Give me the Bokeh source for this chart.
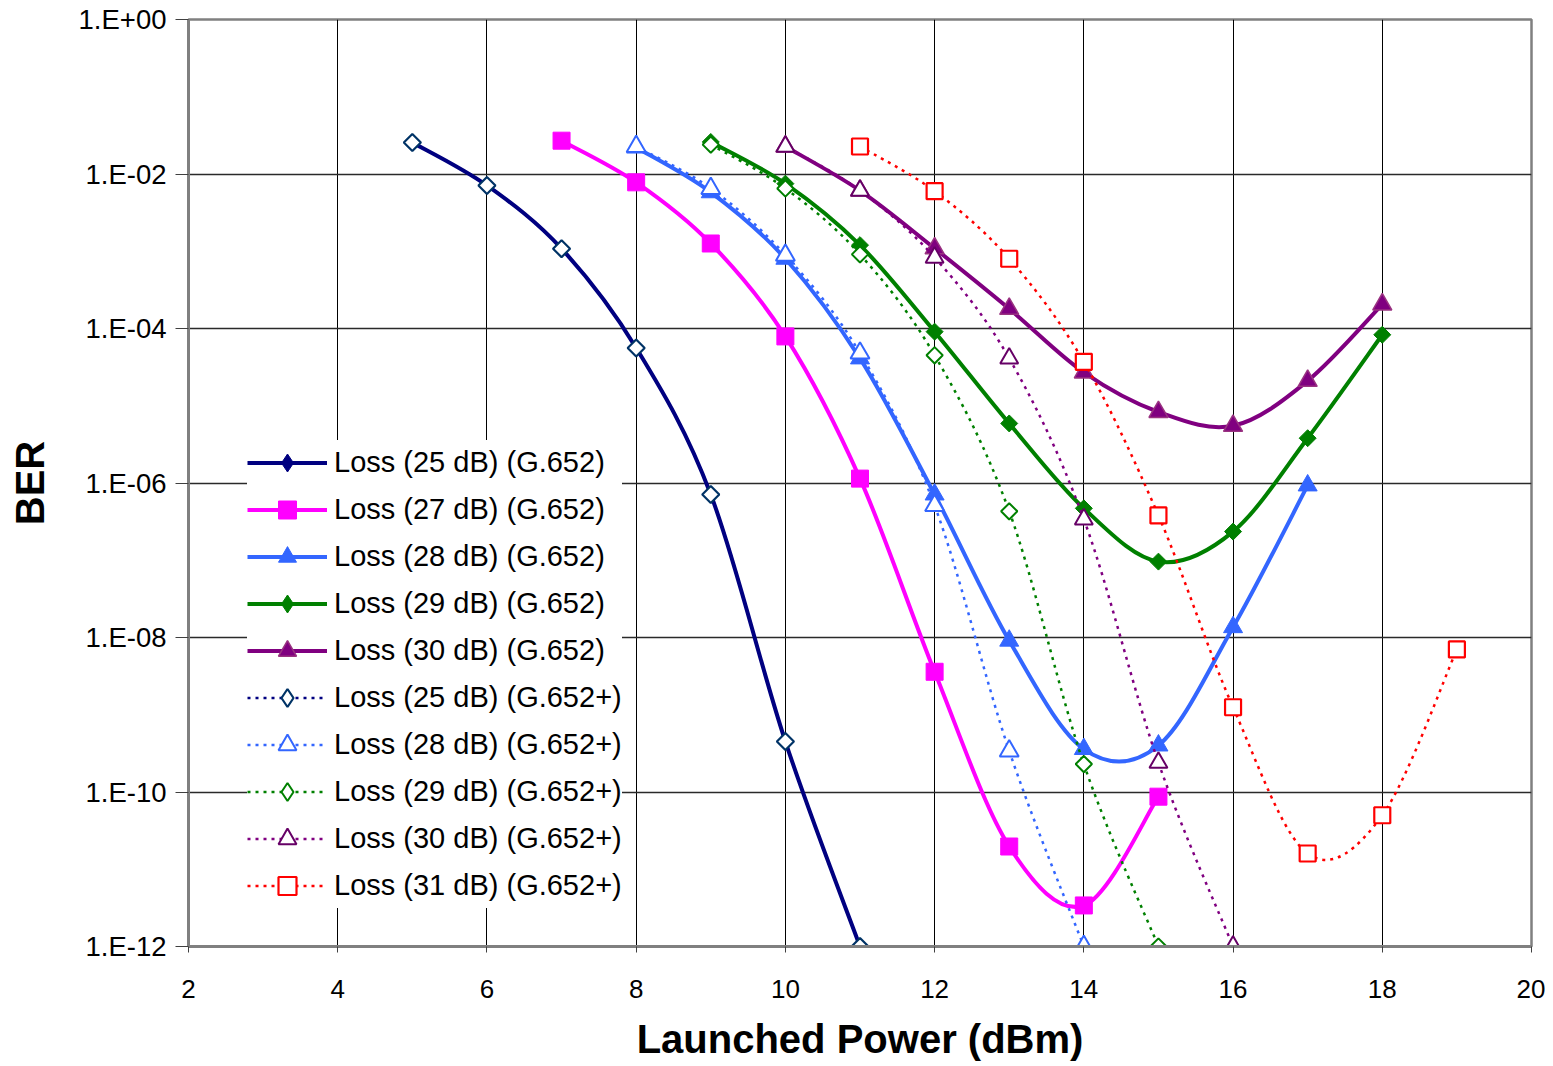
import numpy as np
from bokeh.plotting import figure
from bokeh.models import (Range1d, FixedTicker, CustomJSTickFormatter, Legend,
                          LegendItem, ColumnDataSource)
from bokeh.embed import file_html
from bokeh.resources import INLINE

# ---------------- data ----------------
x_25 = [5, 6, 7, 8, 9, 10, 11]
ber_25 = [2.56e-2, 7.1e-3, 1.08e-3, 5.6e-5, 7.1e-7, 4.5e-10, 1.0e-12]

x_27 = [7, 8, 9, 10, 11, 12, 13, 14, 15]
ber_27 = [2.7e-2, 7.8e-3, 1.26e-3, 7.9e-5, 1.14e-6, 3.6e-9, 1.97e-11, 3.4e-12, 8.7e-11]

x_28 = [8, 9, 10, 11, 12, 13, 14, 15, 16, 17]
ber_28 = [2.2e-2, 5.8e-3, 8.0e-4, 4.1e-5, 7.1e-7, 9.1e-9, 3.6e-10, 4.0e-10, 1.36e-8, 9.3e-7]

x_29 = [9, 10, 11, 12, 13, 14, 15, 16, 17, 18]
ber_29 = [2.6e-2, 7.5e-3, 1.2e-3, 9.1e-5, 5.9e-6, 4.7e-7, 9.6e-8, 2.35e-7, 3.8e-6, 8.3e-5]

x_30 = [10, 11, 12, 13, 14, 15, 16, 17, 18]
ber_30 = [2.27e-2, 6.1e-3, 1.09e-3, 1.8e-4, 2.7e-5, 8.3e-6, 5.5e-6, 2.1e-5, 2.05e-4]

x_25p = [5, 6, 7, 8, 9, 10, 11]
ber_25p = [2.56e-2, 7.1e-3, 1.08e-3, 5.6e-5, 7.1e-7, 4.5e-10, 1.0e-12]

x_28p = [8, 9, 10, 11, 12, 13, 14]
ber_28p = [2.27e-2, 6.5e-3, 8.9e-4, 4.8e-5, 5.1e-7, 3.4e-10, 1.0e-12]

x_29p = [9, 10, 11, 12, 13, 14, 15]
ber_29p = [2.4e-2, 6.5e-3, 9.1e-4, 4.5e-5, 4.3e-7, 2.3e-10, 1.0e-12]

x_30p = [10, 11, 12, 13, 14, 15, 16]
ber_30p = [2.27e-2, 6.1e-3, 8.3e-4, 4.1e-5, 3.4e-7, 2.4e-10, 1.0e-12]

x_31p = [11, 12, 13, 14, 15, 16, 17, 18, 19]
ber_31p = [2.27e-2, 6.0e-3, 8.0e-4, 3.7e-5, 3.8e-7, 1.25e-9, 1.6e-11, 5.0e-11, 7.0e-9]

labels = ["Loss (25 dB) (G.652)", "Loss (27 dB) (G.652)", "Loss (28 dB) (G.652)",
          "Loss (29 dB) (G.652)", "Loss (30 dB) (G.652)",
          "Loss (25 dB) (G.652+)", "Loss (28 dB) (G.652+)", "Loss (29 dB) (G.652+)",
          "Loss (30 dB) (G.652+)", "Loss (31 dB) (G.652+)"]

x_ticks = [2, 4, 6, 8, 10, 12, 14, 16, 18, 20]
y_ticks = [1e-12, 1e-10, 1e-8, 1e-6, 1e-4, 1e-2, 1e0]
y_tick_labels = ["1.E-12", "1.E-10", "1.E-08", "1.E-06", "1.E-04", "1.E-02", "1.E+00"]

# ---------------- styles ----------------
DIAMOND = "rdiamond"   # square turned by 45 degrees
styles = [
    dict(color="#000080", dash="solid", lw=4, marker=DIAMOND, size=12,
         fill="#000080", mline="#000080", mlw=1),
    dict(color="#FF00FF", dash="solid", lw=4, marker="square", size=17,
         fill="#FF00FF", mline="#FF00FF", mlw=1),
    dict(color="#3366FF", dash="solid", lw=4, marker="triangle", size=19,
         fill="#3366FF", mline="#3366FF", mlw=1),
    dict(color="#008000", dash="solid", lw=4, marker=DIAMOND, size=12,
         fill="#008000", mline="#008000", mlw=1),
    dict(color="#800080", dash="solid", lw=4, marker="triangle", size=19,
         fill="#800080", mline="#993380", mlw=1.5),
    dict(color="#000080", dash="3 5", lw=2.5, marker=DIAMOND, size=12,
         fill="white", mline="#003366", mlw=2.2),
    dict(color="#3366FF", dash="3 5", lw=2.5, marker="triangle", size=19,
         fill="white", mline="#3366FF", mlw=2),
    dict(color="#008000", dash="3 5", lw=2.5, marker=DIAMOND, size=11.5,
         fill="white", mline="#008000", mlw=2),
    dict(color="#800080", dash="3 5", lw=2.5, marker="triangle", size=18,
         fill="white", mline="#660066", mlw=2),
    dict(color="#FF0000", dash="3 5", lw=2.5, marker="square", size=16,
         fill="white", mline="#FF0000", mlw=2.2),
]

series = [(x_25, ber_25), (x_27, ber_27), (x_28, ber_28), (x_29, ber_29), (x_30, ber_30),
          (x_25p, ber_25p), (x_28p, ber_28p), (x_29p, ber_29p), (x_30p, ber_30p),
          (x_31p, ber_31p)]


def smooth_segments(xs, ys):
    """Bezier segments (Catmull-Rom style, like a spreadsheet 'smoothed line')
    computed in (x, log10 y) space from the data points."""
    lx = np.asarray(xs, dtype=float)
    ly = np.log10(np.asarray(ys, dtype=float))
    n = len(lx)
    out = {k: [] for k in ("x0", "y0", "x1", "y1", "cx0", "cy0", "cx1", "cy1")}
    for i in range(n - 1):
        ip = i - 1 if i > 0 else i
        inn = i + 2 if i + 2 < n else i + 1
        c1x = lx[i] + (lx[i + 1] - lx[ip]) / 6.0
        c1y = ly[i] + (ly[i + 1] - ly[ip]) / 6.0
        c2x = lx[i + 1] - (lx[inn] - lx[i]) / 6.0
        c2y = ly[i + 1] - (ly[inn] - ly[i]) / 6.0
        out["x0"].append(lx[i]); out["y0"].append(10 ** ly[i])
        out["x1"].append(lx[i + 1]); out["y1"].append(10 ** ly[i + 1])
        out["cx0"].append(c1x); out["cy0"].append(10 ** c1y)
        out["cx1"].append(c2x); out["cy1"].append(10 ** c2y)
    return out


FONT = "Liberation Sans"

p = figure(width=1545, height=1064, y_axis_type="log",
           x_range=Range1d(2, 20), y_range=Range1d(1e-12, 1.0),
           output_backend="svg", toolbar_location=None,
           min_border_left=188, min_border_right=14, min_border_top=19,
           min_border_bottom=118)
p.background_fill_color = "white"
p.border_fill_color = "white"
p.outline_line_color = "#808080"
p.outline_line_width = 2.5

# axes
p.xaxis.ticker = FixedTicker(ticks=x_ticks)
p.yaxis.ticker = FixedTicker(ticks=y_ticks)
p.yaxis.formatter = CustomJSTickFormatter(
    args=dict(tick_vals=y_ticks, tick_texts=y_tick_labels),
    code="""
    let best = 0, d = Infinity;
    for (let i = 0; i < tick_vals.length; i++) {
        const e = Math.abs(Math.log10(tick) - Math.log10(tick_vals[i]));
        if (e < d) { d = e; best = i; }
    }
    return tick_texts[best];
    """)
for ax in (p.xaxis[0], p.yaxis[0]):
    ax.axis_line_color = "#808080"
    ax.axis_line_width = 3
    ax.major_tick_line_color = "#404040"
    ax.major_tick_line_width = 1
    ax.major_tick_in = 0
    ax.minor_tick_line_color = None
    ax.minor_tick_in = 0
    ax.minor_tick_out = 0
    ax.major_label_text_font = FONT
    ax.major_label_text_font_size = "26px"
    ax.major_label_text_color = "black"
    ax.axis_label_text_font = FONT
    ax.axis_label_text_font_size = "40px"
    ax.axis_label_text_font_style = "bold"
    ax.axis_label_text_color = "black"

p.yaxis.major_tick_out = 13
p.yaxis.major_label_standoff = 9
p.yaxis.major_label_text_font_size = "27.5px"
p.yaxis.axis_label = "BER"
p.yaxis.axis_label_standoff = 24

p.xaxis.major_tick_out = 6
p.xaxis.major_label_standoff = 27
p.xaxis.axis_label = "Launched Power (dBm)"
p.xaxis.axis_label_standoff = 16

# grid
p.xgrid.ticker = FixedTicker(ticks=x_ticks)
p.ygrid.ticker = FixedTicker(ticks=y_ticks)
p.xgrid.grid_line_color = "black"
p.xgrid.grid_line_width = 1
p.ygrid.grid_line_color = "#2a2a2a"
p.ygrid.grid_line_width = 1.3

# series
items = []
for (xs, ys), st, lab in zip(series, styles, labels):
    seg = ColumnDataSource(smooth_segments(xs, ys))
    br = p.bezier(x0="x0", y0="y0", x1="x1", y1="y1", cx0="cx0", cy0="cy0",
                  cx1="cx1", cy1="cy1", source=seg, line_color=st["color"],
                  line_width=st["lw"], line_dash=st["dash"])
    pts = ColumnDataSource(dict(x=xs, y=ys))
    if st["marker"] == DIAMOND:
        # diamond used for the legend swatch; hidden under the turned square
        lm = p.scatter(x="x", y="y", source=pts, marker="diamond", size=st["size"] * 1.2,
                       fill_color=st["fill"], line_color=st["mline"], line_width=st["mlw"])
        p.scatter(x="x", y="y", source=pts, marker="square", size=st["size"],
                  angle=np.pi / 4, fill_color=st["fill"], line_color=st["mline"],
                  line_width=st["mlw"])
    else:
        lm = p.scatter(x="x", y="y", source=pts, marker=st["marker"], size=st["size"],
                       fill_color=st["fill"], line_color=st["mline"],
                       line_width=st["mlw"])
    items.append(LegendItem(label=lab, renderers=[br, lm]))

legend = Legend(items=items, location=(59, 38), orientation="vertical")
legend.background_fill_color = "white"
legend.background_fill_alpha = 1.0
legend.border_line_color = None
legend.padding = 8
legend.margin = 0
legend.spacing = 2
legend.glyph_width = 80
legend.glyph_height = 45
legend.label_height = 45
legend.label_standoff = 7
legend.label_text_font = FONT
legend.label_text_font_size = "29px"
legend.label_text_color = "black"
p.add_layout(legend)

open("out.html", "w").write(file_html(p, INLINE))
